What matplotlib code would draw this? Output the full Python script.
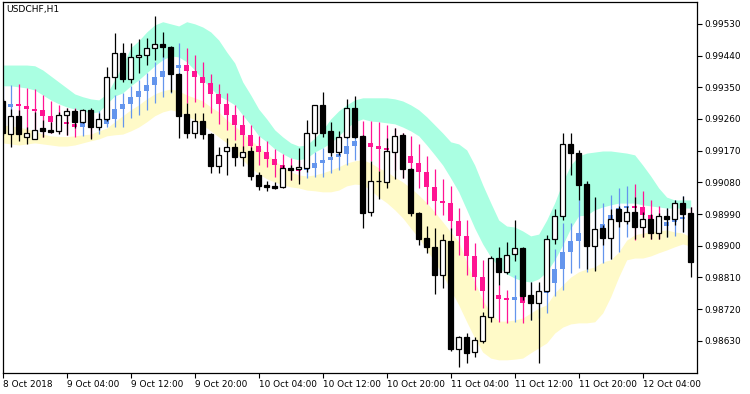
import matplotlib
matplotlib.use("Agg")
import matplotlib.pyplot as plt
from matplotlib.patches import Rectangle
import numpy as np

# USDCHF H1, 8 Oct 20:00 .. 12 Oct 10:00
open_ = [0.99312, 0.99217, 0.99269, 0.99210, 0.99204, 0.99234, 0.99229, 0.99225, 0.99271, 0.99283,
         0.99250, 0.99286, 0.99238, 0.99259, 0.99378, 0.99447, 0.99373, 0.99435, 0.99442, 0.99461,
         0.99473, 0.99464, 0.99388, 0.99274, 0.99219, 0.99255, 0.99217, 0.99127, 0.99168, 0.99181,
         0.99153, 0.99169, 0.99101, 0.99073, 0.99070, 0.99068, 0.99120, 0.99117, 0.99122, 0.99221,
         0.99299, 0.99226, 0.99167, 0.99210, 0.99290, 0.99212, 0.98997, 0.99083, 0.99082, 0.99166,
         0.99215, 0.99117, 0.98993, 0.98922, 0.98897, 0.98818, 0.98914, 0.98608, 0.98642, 0.98598,
         0.98630, 0.98699, 0.98864, 0.98824, 0.98876, 0.98893, 0.98760, 0.98737, 0.98772, 0.98918,
         0.98983, 0.99189, 0.99163, 0.99075, 0.98900, 0.98950, 0.98923, 0.99004, 0.98971, 0.98995,
         0.98954, 0.98976, 0.98937, 0.98984, 0.98975, 0.99021, 0.98992]
high = [0.99317, 0.99287, 0.99286, 0.99236, 0.99280, 0.99257, 0.99250, 0.99281, 0.99290, 0.99289,
        0.99288, 0.99291, 0.99276, 0.99407, 0.99503, 0.99477, 0.99477, 0.99486, 0.99489, 0.99553,
        0.99506, 0.99466, 0.99390, 0.99306, 0.99276, 0.99276, 0.99219, 0.99181, 0.99205, 0.99191,
        0.99184, 0.99181, 0.99110, 0.99084, 0.99082, 0.99129, 0.99129, 0.99177, 0.99257, 0.99300,
        0.99337, 0.99250, 0.99226, 0.99317, 0.99325, 0.99215, 0.99141, 0.99113, 0.99206, 0.99234,
        0.99221, 0.99120, 0.98997, 0.98956, 0.98951, 0.98933, 0.98950, 0.98645, 0.98651, 0.98640,
        0.98711, 0.98871, 0.98897, 0.98910, 0.98973, 0.98897, 0.98796, 0.98798, 0.98931, 0.99004,
        0.99219, 0.99219, 0.99172, 0.99085, 0.99038, 0.98959, 0.99004, 0.99013, 0.99013, 0.99039,
        0.98997, 0.98990, 0.98994, 0.99006, 0.99030, 0.99041, 0.99009]
low = [0.99215, 0.99180, 0.99196, 0.99189, 0.99202, 0.99210, 0.99219, 0.99217, 0.99215, 0.99234,
       0.99248, 0.99204, 0.99229, 0.99255, 0.99344, 0.99365, 0.99361, 0.99390, 0.99413, 0.99428,
       0.99437, 0.99337, 0.99205, 0.99205, 0.99205, 0.99202, 0.99106, 0.99106, 0.99101, 0.99125,
       0.99125, 0.99087, 0.99058, 0.99056, 0.99061, 0.99065, 0.99087, 0.99075, 0.99110, 0.99184,
       0.99210, 0.99155, 0.99158, 0.99206, 0.99206, 0.98950, 0.98983, 0.99033, 0.99065, 0.99090,
       0.99092, 0.98985, 0.98902, 0.98880, 0.98763, 0.98781, 0.98602, 0.98557, 0.98566, 0.98585,
       0.98625, 0.98684, 0.98789, 0.98820, 0.98858, 0.98746, 0.98689, 0.98566, 0.98769, 0.98905,
       0.98973, 0.99101, 0.99030, 0.98834, 0.98829, 0.98902, 0.98862, 0.98954, 0.98961, 0.98918,
       0.98926, 0.98918, 0.98918, 0.98924, 0.98959, 0.98940, 0.98810]
close = [0.99219, 0.99269, 0.99217, 0.99220, 0.99228, 0.99227, 0.99223, 0.99271, 0.99283, 0.99250,
         0.99286, 0.99238, 0.99260, 0.99378, 0.99447, 0.99373, 0.99435, 0.99442, 0.99461, 0.99473,
         0.99464, 0.99388, 0.99269, 0.99219, 0.99255, 0.99217, 0.99127, 0.99158, 0.99181, 0.99153,
         0.99166, 0.99099, 0.99071, 0.99066, 0.99065, 0.99120, 0.99116, 0.99123, 0.99219, 0.99299,
         0.99221, 0.99167, 0.99210, 0.99290, 0.99210, 0.98994, 0.99083, 0.99084, 0.99169, 0.99212,
         0.99117, 0.98994, 0.98919, 0.98895, 0.98817, 0.98916, 0.98607, 0.98640, 0.98596, 0.98632,
         0.98701, 0.98864, 0.98824, 0.98874, 0.98893, 0.98758, 0.98737, 0.98772, 0.98918, 0.98983,
         0.99189, 0.99163, 0.99073, 0.98899, 0.98947, 0.98923, 0.98975, 0.98971, 0.98995, 0.98954,
         0.98975, 0.98937, 0.98983, 0.98976, 0.99021, 0.98990, 0.98855]

# indicator: smoothed line with its own high/low
mid = [0.99295, 0.99303, 0.99297, 0.99289, 0.99284, 0.99267, 0.99250, 0.99249, 0.99247, 0.99236,
       0.99249, 0.99246, 0.99246, 0.99259, 0.99288, 0.99302, 0.99322, 0.99340, 0.99357, 0.99378,
       0.99396, 0.99405, 0.99412, 0.99395, 0.99378, 0.99361, 0.99330, 0.99302, 0.99271, 0.99243,
       0.99215, 0.99184, 0.99166, 0.99146, 0.99129, 0.99120, 0.99117, 0.99115, 0.99122, 0.99134,
       0.99142, 0.99151, 0.99161, 0.99183, 0.99198, 0.99192, 0.99181, 0.99177, 0.99173, 0.99165,
       0.99156, 0.99136, 0.99109, 0.99068, 0.99028, 0.99020, 0.98970, 0.98929, 0.98871, 0.98812,
       0.98772, 0.98760, 0.98749, 0.98746, 0.98754, 0.98738, 0.98746, 0.98765, 0.98794, 0.98834,
       0.98881, 0.98914, 0.98935, 0.98942, 0.98948, 0.98962, 0.98987, 0.99006, 0.99013, 0.99009,
       0.98987, 0.98976, 0.98957, 0.98966, 0.98975, 0.98980, 0.98968]
mid_hi = [0.99354, 0.99357, 0.99359, 0.99348, 0.99345, 0.99328, 0.99312, 0.99300, 0.99290, 0.99290,
          0.99286, 0.99283, 0.99283, 0.99300, 0.99328, 0.99333, 0.99354, 0.99371, 0.99391, 0.99421,
          0.99447, 0.99462, 0.99475, 0.99462, 0.99442, 0.99421, 0.99388, 0.99359, 0.99333, 0.99300,
          0.99271, 0.99243, 0.99212, 0.99196, 0.99175, 0.99161, 0.99148, 0.99144, 0.99149, 0.99167,
          0.99177, 0.99177, 0.99191, 0.99209, 0.99223, 0.99254, 0.99254, 0.99250, 0.99243, 0.99234,
          0.99221, 0.99212, 0.99188, 0.99155, 0.99117, 0.99089, 0.99070, 0.99008, 0.98973, 0.98907,
          0.98860, 0.98817, 0.98789, 0.98774, 0.98817, 0.98789, 0.98796, 0.98789, 0.98831, 0.98890,
          0.98964, 0.98964, 0.99030, 0.99081, 0.99036, 0.99021, 0.99044, 0.99063, 0.99070, 0.99075,
          0.99054, 0.99030, 0.99013, 0.99006, 0.99030, 0.99041, 0.99009]
mid_lo = [0.99243, 0.99240, 0.99234, 0.99223, 0.99217, 0.99210, 0.99219, 0.99220, 0.99215, 0.99210,
          0.99212, 0.99206, 0.99217, 0.99237, 0.99238, 0.99238, 0.99262, 0.99271, 0.99286, 0.99305,
          0.99323, 0.99334, 0.99342, 0.99305, 0.99309, 0.99295, 0.99276, 0.99246, 0.99229, 0.99200,
          0.99172, 0.99149, 0.99129, 0.99123, 0.99096, 0.99092, 0.99087, 0.99087, 0.99092, 0.99094,
          0.99094, 0.99106, 0.99115, 0.99129, 0.99144, 0.99144, 0.99141, 0.99113, 0.99129, 0.99115,
          0.99092, 0.99073, 0.99064, 0.99018, 0.98987, 0.98987, 0.98945, 0.98874, 0.98817, 0.98774,
          0.98722, 0.98695, 0.98684, 0.98680, 0.98684, 0.98680, 0.98689, 0.98695, 0.98709, 0.98757,
          0.98774, 0.98822, 0.98836, 0.98825, 0.98831, 0.98850, 0.98862, 0.98883, 0.98926, 0.98916,
          0.98926, 0.98918, 0.98919, 0.98924, 0.98928, 0.98940, 0.98916]

# channel bands
up_outer = [0.99413, 0.99413, 0.99413, 0.99413, 0.99411, 0.99399, 0.99382, 0.99365, 0.99348, 0.99331,
            0.99323, 0.99317, 0.99314, 0.99331, 0.99371, 0.99413, 0.99462, 0.99482, 0.99507, 0.99527,
            0.99536, 0.99530, 0.99524, 0.99536, 0.99530, 0.99521, 0.99507, 0.99484, 0.99450, 0.99419,
            0.99365, 0.99328, 0.99288, 0.99260, 0.99229, 0.99209, 0.99192, 0.99183, 0.99186, 0.99206,
            0.99229, 0.99260, 0.99283, 0.99300, 0.99314, 0.99320, 0.99320, 0.99320, 0.99320, 0.99317,
            0.99311, 0.99300, 0.99286, 0.99266, 0.99243, 0.99220, 0.99195, 0.99189, 0.99172, 0.99129,
            0.99073, 0.99022, 0.98973, 0.98956, 0.98953, 0.98942, 0.98928, 0.98933, 0.98973, 0.99022,
            0.99081, 0.99129, 0.99155, 0.99163, 0.99166, 0.99169, 0.99169, 0.99166, 0.99163, 0.99158,
            0.99129, 0.99098, 0.99064, 0.99038, 0.99030, 0.99030, 0.99030]
up_inner = [0.99354, 0.99354, 0.99351, 0.99348, 0.99342, 0.99328, 0.99314, 0.99303, 0.99294, 0.99288,
            0.99283, 0.99277, 0.99280, 0.99303, 0.99325, 0.99334, 0.99354, 0.99371, 0.99391, 0.99411,
            0.99428, 0.99439, 0.99436, 0.99422, 0.99399, 0.99371, 0.99348, 0.99325, 0.99314, 0.99300,
            0.99271, 0.99243, 0.99212, 0.99195, 0.99175, 0.99161, 0.99149, 0.99144, 0.99149, 0.99166,
            0.99178, 0.99192, 0.99212, 0.99234, 0.99252, 0.99260, 0.99254, 0.99252, 0.99249, 0.99246,
            0.99237, 0.99226, 0.99212, 0.99186, 0.99158, 0.99129, 0.99092, 0.99053, 0.99002, 0.98950,
            0.98905, 0.98868, 0.98840, 0.98820, 0.98808, 0.98800, 0.98797, 0.98806, 0.98826, 0.98860,
            0.98902, 0.98950, 0.98985, 0.98987, 0.99002, 0.99010, 0.99016, 0.99021, 0.99021, 0.99021,
            0.99016, 0.99013, 0.99010, 0.99007, 0.99007, 0.99007, 0.99007]
lo_inner = [0.99243, 0.99240, 0.99237, 0.99232, 0.99226, 0.99217, 0.99212, 0.99210, 0.99210, 0.99212,
            0.99215, 0.99217, 0.99226, 0.99234, 0.99252, 0.99269, 0.99286, 0.99300, 0.99317, 0.99331,
            0.99340, 0.99345, 0.99340, 0.99328, 0.99320, 0.99311, 0.99294, 0.99280, 0.99257, 0.99240,
            0.99220, 0.99200, 0.99181, 0.99161, 0.99141, 0.99124, 0.99110, 0.99101, 0.99098, 0.99101,
            0.99107, 0.99115, 0.99124, 0.99135, 0.99141, 0.99144, 0.99135, 0.99121, 0.99110, 0.99095,
            0.99081, 0.99064, 0.99044, 0.99022, 0.98996, 0.98968, 0.98939, 0.98911, 0.98854, 0.98797,
            0.98746, 0.98709, 0.98686, 0.98686, 0.98689, 0.98695, 0.98709, 0.98723, 0.98732, 0.98766,
            0.98789, 0.98811, 0.98826, 0.98834, 0.98840, 0.98854, 0.98860, 0.98882, 0.98916, 0.98931,
            0.98936, 0.98939, 0.98942, 0.98945, 0.98939, 0.98936, 0.98925]
lo_outer = [0.99192, 0.99189, 0.99186, 0.99189, 0.99192, 0.99189, 0.99186, 0.99183, 0.99183, 0.99186,
            0.99192, 0.99198, 0.99203, 0.99212, 0.99215, 0.99217, 0.99226, 0.99237, 0.99252, 0.99269,
            0.99280, 0.99286, 0.99280, 0.99269, 0.99257, 0.99243, 0.99226, 0.99209, 0.99192, 0.99166,
            0.99144, 0.99121, 0.99104, 0.99090, 0.99081, 0.99073, 0.99067, 0.99064, 0.99058, 0.99056,
            0.99053, 0.99053, 0.99058, 0.99070, 0.99075, 0.99073, 0.99058, 0.99038, 0.99022, 0.99002,
            0.98979, 0.98950, 0.98922, 0.98888, 0.98854, 0.98817, 0.98774, 0.98732, 0.98684, 0.98638,
            0.98598, 0.98581, 0.98576, 0.98576, 0.98578, 0.98581, 0.98596, 0.98610, 0.98624, 0.98652,
            0.98669, 0.98678, 0.98681, 0.98681, 0.98684, 0.98709, 0.98755, 0.98811, 0.98860, 0.98865,
            0.98865, 0.98871, 0.98880, 0.98888, 0.98897, 0.98905, 0.98899]

xtick_pos = [0, 8, 16, 24, 32, 40, 48, 56, 64, 72, 80]
xtick_labels = ["8 Oct 2018", "9 Oct 04:00", "9 Oct 12:00", "9 Oct 20:00", "10 Oct 04:00",
                "10 Oct 12:00", "10 Oct 20:00", "11 Oct 04:00", "11 Oct 12:00",
                "11 Oct 20:00", "12 Oct 04:00"]
ytick_vals = [0.98630, 0.98720, 0.98810, 0.98900, 0.98990, 0.99080, 0.99170,
              0.99260, 0.99350, 0.99440, 0.99530]

plt.rcParams['font.family'] = ['DejaVu Sans']

fig = plt.figure(figsize=(7.5, 3.94), dpi=100)
ax = fig.add_axes([2.5 / 750, 1 - 372.7 / 394, (697 - 2.5) / 750, (372.7 - 2) / 394])

n = len(open_)
x = np.arange(n)

ax.fill_between(x, up_inner, up_outer, color='#aaffe2', lw=0, zorder=1)
ax.fill_between(x, lo_outer, lo_inner, color='#fffac8', lw=0, zorder=1)

pink = '#ff1493'
blue = '#6495ed'
bw = 0.62
min_h = 0.00006
for i in range(n):
    prev = mid[i - 1] if i > 0 else mid[i]
    c = blue if mid[i] >= prev else pink
    ax.vlines(i, mid_lo[i], mid_hi[i], color=c, lw=0.9, zorder=2)
    b0, b1 = min(prev, mid[i]), max(prev, mid[i])
    if b1 - b0 < min_h:
        cen = (b0 + b1) / 2
        b0, b1 = cen - min_h / 2, cen + min_h / 2
    ax.add_patch(Rectangle((i - bw / 2, b0), bw, b1 - b0, facecolor=c,
                           edgecolor='none', zorder=3))

for i in range(n):
    ax.vlines(i, low[i], high[i], color='black', lw=0.9, zorder=4)
    lo_b, hi_b = min(open_[i], close[i]), max(open_[i], close[i])
    if hi_b - lo_b < 0.00002:
        hi_b = lo_b + 0.00002
    fc = 'white' if close[i] >= open_[i] else 'black'
    ax.add_patch(Rectangle((i - bw / 2, lo_b), bw, hi_b - lo_b, facecolor=fc,
                           edgecolor='black', lw=0.9, zorder=5))

ax.set_xlim(-0.03, 86.79)
ax.set_ylim(0.985395, 0.99592)

ax.set_xticks(xtick_pos)
ax.set_xticklabels(xtick_labels, ha='left')
ax.set_yticks(ytick_vals)
ax.set_yticklabels(["%.5f" % v for v in ytick_vals])
ax.yaxis.tick_right()
ax.tick_params(axis='both', direction='out', length=3.5, width=0.8,
               labelsize=6.4, colors='black')
ax.tick_params(axis='x', pad=2)
ax.tick_params(axis='y', pad=1.5)
for s in ax.spines.values():
    s.set_linewidth(0.9)
    s.set_color('black')

fig.text(6 / 750, 1 - 9.5 / 394, "USDCHF,H1", fontsize=6.6, va='center', ha='left')

fig.savefig("out.png", dpi=100)
